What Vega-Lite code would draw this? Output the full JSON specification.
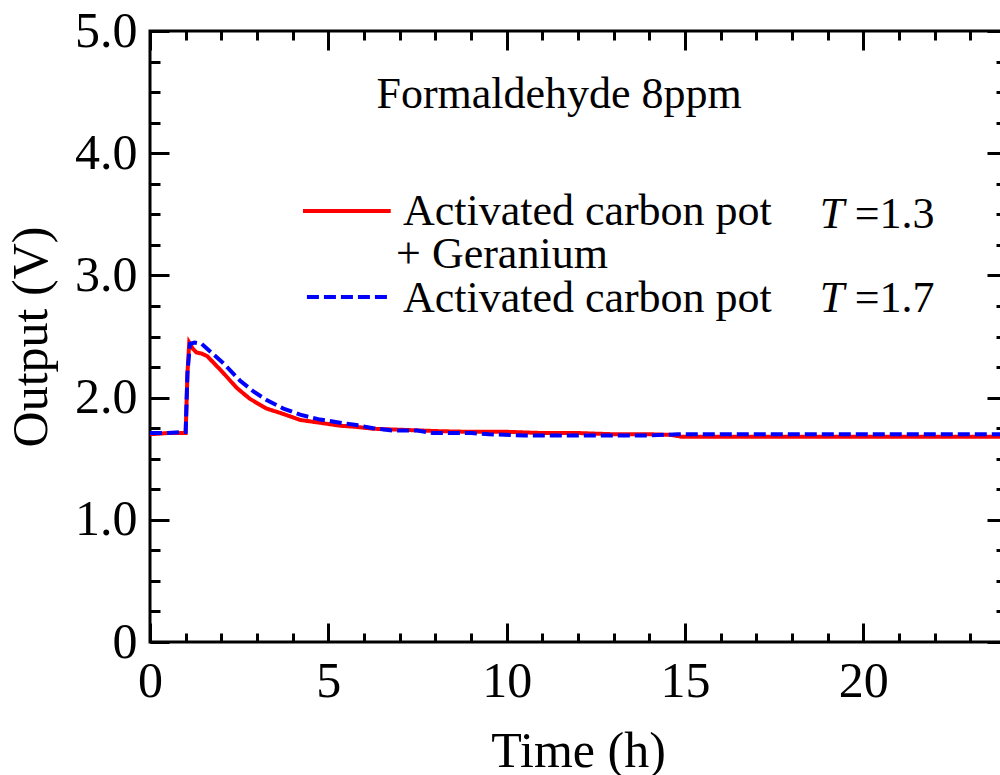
{
  "$schema": "https://vega.github.io/schema/vega-lite/v6.json",
  "autosize": "none",
  "padding": {"left": 150, "top": 31, "right": 0, "bottom": 133},
  "width": 856,
  "height": 611,
  "background": "white",
  "config": {
    "view": {"stroke": "black", "strokeWidth": 3},
    "axis": {
      "labelFont": "Liberation Serif",
      "titleFont": "Liberation Serif",
      "labelFontSize": 50,
      "titleFontSize": 50,
      "titleFontWeight": "normal",
      "labelColor": "black",
      "titleColor": "black",
      "tickColor": "black",
      "tickWidth": 3,
      "domain": false,
      "grid": false
    },
    "text": {"font": "Liberation Serif", "fontSize": 44, "color": "black"}
  },
  "datasets": {
    "one": [{}],
    "curves": [
      {"series": "carbon_geranium", "t": 0, "v": 1.70},
      {"series": "carbon_geranium", "t": 0.5, "v": 1.71},
      {"series": "carbon_geranium", "t": 1.0, "v": 1.71},
      {"series": "carbon_geranium", "t": 1.05, "v": 2.2},
      {"series": "carbon_geranium", "t": 1.1, "v": 2.45},
      {"series": "carbon_geranium", "t": 1.2, "v": 2.4},
      {"series": "carbon_geranium", "t": 1.3, "v": 2.37},
      {"series": "carbon_geranium", "t": 1.45, "v": 2.36},
      {"series": "carbon_geranium", "t": 1.6, "v": 2.34},
      {"series": "carbon_geranium", "t": 1.8, "v": 2.28},
      {"series": "carbon_geranium", "t": 2.06, "v": 2.2},
      {"series": "carbon_geranium", "t": 2.43, "v": 2.08},
      {"series": "carbon_geranium", "t": 2.8, "v": 1.99},
      {"series": "carbon_geranium", "t": 3.27, "v": 1.91},
      {"series": "carbon_geranium", "t": 3.74, "v": 1.866},
      {"series": "carbon_geranium", "t": 4.21, "v": 1.817},
      {"series": "carbon_geranium", "t": 4.86, "v": 1.79},
      {"series": "carbon_geranium", "t": 5.33, "v": 1.77},
      {"series": "carbon_geranium", "t": 5.79, "v": 1.76},
      {"series": "carbon_geranium", "t": 6.26, "v": 1.745},
      {"series": "carbon_geranium", "t": 7.2, "v": 1.735},
      {"series": "carbon_geranium", "t": 8.13, "v": 1.725},
      {"series": "carbon_geranium", "t": 9.0, "v": 1.72},
      {"series": "carbon_geranium", "t": 10.0, "v": 1.72},
      {"series": "carbon_geranium", "t": 11.0, "v": 1.71},
      {"series": "carbon_geranium", "t": 12.0, "v": 1.71},
      {"series": "carbon_geranium", "t": 13.0, "v": 1.70},
      {"series": "carbon_geranium", "t": 14.0, "v": 1.70},
      {"series": "carbon_geranium", "t": 14.6, "v": 1.695},
      {"series": "carbon_geranium", "t": 14.9, "v": 1.68},
      {"series": "carbon_geranium", "t": 16, "v": 1.68},
      {"series": "carbon_geranium", "t": 18, "v": 1.68},
      {"series": "carbon_geranium", "t": 20, "v": 1.68},
      {"series": "carbon_geranium", "t": 22, "v": 1.68},
      {"series": "carbon_geranium", "t": 24, "v": 1.68},
      {"series": "carbon", "t": 0, "v": 1.71},
      {"series": "carbon", "t": 0.5, "v": 1.71},
      {"series": "carbon", "t": 1.0, "v": 1.72},
      {"series": "carbon", "t": 1.05, "v": 2.2},
      {"series": "carbon", "t": 1.12, "v": 2.44},
      {"series": "carbon", "t": 1.25, "v": 2.45},
      {"series": "carbon", "t": 1.45, "v": 2.44},
      {"series": "carbon", "t": 1.68, "v": 2.38},
      {"series": "carbon", "t": 2.06, "v": 2.28},
      {"series": "carbon", "t": 2.52, "v": 2.14},
      {"series": "carbon", "t": 2.9, "v": 2.05},
      {"series": "carbon", "t": 3.27, "v": 1.98},
      {"series": "carbon", "t": 3.74, "v": 1.91},
      {"series": "carbon", "t": 4.21, "v": 1.86},
      {"series": "carbon", "t": 4.77, "v": 1.82},
      {"series": "carbon", "t": 5.33, "v": 1.795},
      {"series": "carbon", "t": 5.79, "v": 1.775},
      {"series": "carbon", "t": 6.26, "v": 1.75},
      {"series": "carbon", "t": 6.82, "v": 1.73},
      {"series": "carbon", "t": 7.5, "v": 1.73},
      {"series": "carbon", "t": 7.94, "v": 1.71},
      {"series": "carbon", "t": 9.0, "v": 1.71},
      {"series": "carbon", "t": 9.5, "v": 1.70},
      {"series": "carbon", "t": 10.5, "v": 1.69},
      {"series": "carbon", "t": 12, "v": 1.69},
      {"series": "carbon", "t": 14, "v": 1.69},
      {"series": "carbon", "t": 14.8, "v": 1.70},
      {"series": "carbon", "t": 16, "v": 1.70},
      {"series": "carbon", "t": 20, "v": 1.70},
      {"series": "carbon", "t": 24, "v": 1.70}
    ]
  },
  "resolve": {"axis": {"x": "independent", "y": "independent"}},
  "layer": [
    {
      "data": {"name": "curves"},
      "mark": {"type": "line", "strokeWidth": 4, "clip": true},
      "encoding": {
        "x": {"field": "t", "type": "quantitative",
          "scale": {"domain": [0, 24], "nice": false, "zero": false},
          "axis": {"orient": "bottom", "title": "Time (h)", "values": [0, 5, 10, 15, 20],
            "tickSize": -19, "labelPadding": 33, "format": "d", "titlePadding": 20, "labelFlush": false, "labelOverlap": false}},
        "y": {"field": "v", "type": "quantitative",
          "scale": {"domain": [0, 5], "nice": false, "zero": false},
          "axis": {"orient": "left", "title": "Output (V)", "values": [0, 1, 2, 3, 4, 5],
            "tickSize": -19, "labelPadding": 32, "titlePadding": 18,
            "labelExpr": "datum.value === 0 ? '0' : format(datum.value, '.1f')", "labelFlush": false, "labelOverlap": false}},
        "color": {"field": "series", "type": "nominal",
          "scale": {"domain": ["carbon_geranium", "carbon"], "range": ["#ff0000", "#0000ff"]}, "legend": null},
        "strokeDash": {"field": "series", "type": "nominal",
          "scale": {"domain": ["carbon_geranium", "carbon"], "range": [[1, 0], [12, 5]]}, "legend": null},
        "order": {"field": "t", "type": "quantitative"}
      }
    },
    {
      "data": {"name": "one"},
      "mark": {"type": "text", "align": "center", "baseline": "alphabetic"},
      "encoding": {
        "x": {"datum": 11.47, "type": "quantitative", "scale": {"domain": [0, 24], "nice": false, "zero": false},
          "axis": {"orient": "bottom", "title": null, "values": [0,1,2,3,4,5,6,7,8,9,10,11,12,13,14,15,16,17,18,19,20,21,22,23,24],
            "tickSize": -9, "labels": false}},
        "y": {"datum": 4.37, "type": "quantitative", "scale": {"domain": [0, 5], "nice": false, "zero": false},
          "axis": {"orient": "left", "title": null, "values": [0,0.25,0.5,0.75,1,1.25,1.5,1.75,2,2.25,2.5,2.75,3,3.25,3.5,3.75,4,4.25,4.5,4.75,5],
            "tickSize": -10, "labels": false}},
        "text": {"value": "Formaldehyde 8ppm"}
      }
    },
    {
      "data": {"name": "one"},
      "mark": {"type": "rule", "color": "#ff0000", "strokeWidth": 4},
      "encoding": {
        "x": {"datum": 4.29, "type": "quantitative", "scale": {"domain": [0, 24], "nice": false, "zero": false},
          "axis": {"orient": "top", "title": null, "values": [0, 5, 10, 15, 20], "tickSize": -19, "labels": false}},
        "x2": {"datum": 6.75},
        "y": {"datum": 3.527, "type": "quantitative", "scale": {"domain": [0, 5], "nice": false, "zero": false},
          "axis": {"orient": "right", "title": null, "values": [0, 1, 2, 3, 4, 5], "tickSize": -19, "labels": false}}
      }
    },
    {
      "data": {"name": "one"},
      "mark": {"type": "rule", "color": "#0000ff", "strokeWidth": 4, "strokeDash": [12, 5]},
      "encoding": {
        "x": {"datum": 4.4, "type": "quantitative", "scale": {"domain": [0, 24], "nice": false, "zero": false},
          "axis": {"orient": "top", "title": null, "values": [0,1,2,3,4,5,6,7,8,9,10,11,12,13,14,15,16,17,18,19,20,21,22,23,24],
            "tickSize": -9, "labels": false}},
        "x2": {"datum": 6.75},
        "y": {"datum": 2.823, "type": "quantitative", "scale": {"domain": [0, 5], "nice": false, "zero": false},
          "axis": {"orient": "right", "title": null, "values": [0,0.25,0.5,0.75,1,1.25,1.5,1.75,2,2.25,2.5,2.75,3,3.25,3.5,3.75,4,4.25,4.5,4.75,5],
            "tickSize": -10, "labels": false}}
      }
    },
    {
      "data": {"name": "one"},
      "mark": {"type": "text", "align": "left", "baseline": "alphabetic"},
      "encoding": {
        "x": {"datum": 7.09, "type": "quantitative", "axis": null},
        "y": {"datum": 3.41, "type": "quantitative", "axis": null},
        "text": {"value": "Activated carbon pot"}
      }
    },
    {
      "data": {"name": "one"},
      "mark": {"type": "text", "align": "left", "baseline": "alphabetic"},
      "encoding": {
        "x": {"datum": 6.9, "type": "quantitative", "axis": null},
        "y": {"datum": 3.06, "type": "quantitative", "axis": null},
        "text": {"value": "+ Geranium"}
      }
    },
    {
      "data": {"name": "one"},
      "mark": {"type": "text", "align": "left", "baseline": "alphabetic"},
      "encoding": {
        "x": {"datum": 7.09, "type": "quantitative", "axis": null},
        "y": {"datum": 2.7, "type": "quantitative", "axis": null},
        "text": {"value": "Activated carbon pot"}
      }
    },
    {
      "data": {"name": "one"},
      "mark": {"type": "text", "align": "left", "baseline": "alphabetic", "fontStyle": "italic"},
      "encoding": {
        "x": {"datum": 18.78, "type": "quantitative", "axis": null},
        "y": {"datum": 3.39, "type": "quantitative", "axis": null},
        "text": {"value": "T"}
      }
    },
    {
      "data": {"name": "one"},
      "mark": {"type": "text", "align": "left", "baseline": "alphabetic"},
      "encoding": {
        "x": {"datum": 19.76, "type": "quantitative", "axis": null},
        "y": {"datum": 3.39, "type": "quantitative", "axis": null},
        "text": {"value": "=1.3"}
      }
    },
    {
      "data": {"name": "one"},
      "mark": {"type": "text", "align": "left", "baseline": "alphabetic", "fontStyle": "italic"},
      "encoding": {
        "x": {"datum": 18.78, "type": "quantitative", "axis": null},
        "y": {"datum": 2.7, "type": "quantitative", "axis": null},
        "text": {"value": "T"}
      }
    },
    {
      "data": {"name": "one"},
      "mark": {"type": "text", "align": "left", "baseline": "alphabetic"},
      "encoding": {
        "x": {"datum": 19.76, "type": "quantitative", "axis": null},
        "y": {"datum": 2.7, "type": "quantitative", "axis": null},
        "text": {"value": "=1.7"}
      }
    }
  ]
}
